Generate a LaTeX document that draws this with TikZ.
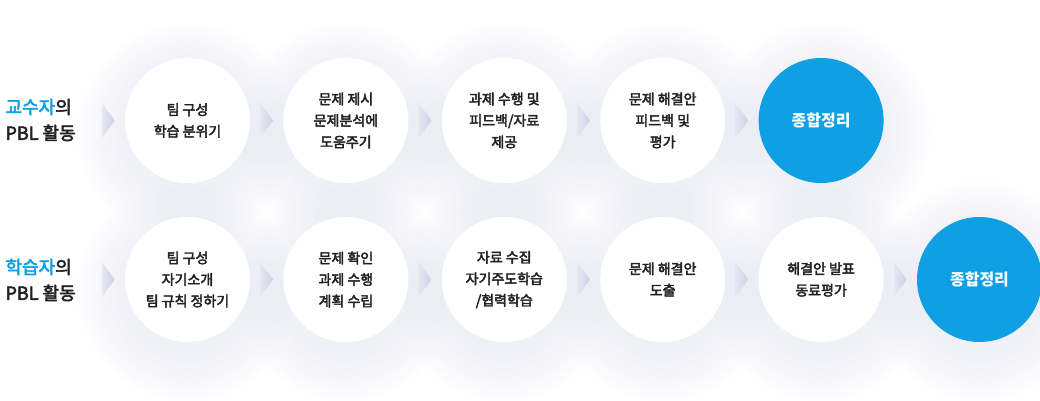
\documentclass[tikz,border=0pt]{standalone}
\usepackage{fontspec}
\setmainfont{Noto Sans CJK KR}
\newfontfamily\medfont{Noto Sans CJK KR}[FakeBold=3]
\usetikzlibrary{positioning, calc, backgrounds}
\definecolor{pblblue}{HTML}{0F9FE3}
\definecolor{txtdark}{HTML}{222222}
\definecolor{haze}{HTML}{D6D6EA}
\definecolor{chev}{HTML}{CFCFE5}
\tikzset{
  stepcirc/.style={circle, fill=white, minimum size=125pt, inner sep=0pt,
    align=center, text=txtdark, font=\medfont\fontsize{14}{21.5}\selectfont},
  endcirc/.style={stepcirc, fill=pblblue, text=white,
    font=\fontsize{16}{20}\selectfont\bfseries},
  rolelabel/.style={align=left, anchor=west, text=txtdark,
    font=\medfont\fontsize{18}{26}\selectfont},
}

\begin{document}
\begin{tikzpicture}[x=1pt, y=-1pt]
    \useasboundingbox (0,0) rectangle (1040,400);
    % row labels
    \node [rolelabel] (role1) at (2,120) {\textcolor{pblblue}{교수자}의\\PBL 활동};
    \node [rolelabel] (role2) at (2,280) {\textcolor{pblblue}{학습자}의\\PBL 활동};
    % professor row
    \node [stepcirc] (t1) at (187.5,120.5) {팀 구성\\학습 분위기};
    \node [stepcirc, right=33pt of t1] (t2) {문제 제시\\문제분석에\\도움주기};
    \node [stepcirc, right=33pt of t2] (t3) {과제 수행 및\\피드백/자료\\제공};
    \node [stepcirc, right=33pt of t3] (t4) {문제 해결안\\피드백 및\\평가};
    \node [endcirc, right=33pt of t4] (t5) {종합정리};
    % learner row
    \node [stepcirc] (b1) at (187.5,279.5) {팀 구성\\자기소개\\팀 규칙 정하기};
    \node [stepcirc, right=33pt of b1] (b2) {문제 확인\\과제 수행\\계획 수립};
    \node [stepcirc, right=33pt of b2] (b3) {자료 수집\\자기주도학습\\/협력학습};
    \node [stepcirc, right=33pt of b3] (b4) {문제 해결안\\도출};
    \node [stepcirc, right=33pt of b4] (b5) {해결안 발표\\동료평가};
    \node [endcirc, right=33pt of b5] (b6) {종합정리};
    \begin{scope}[on background layer]
      % soft shadows
      \foreach \n in {t1,t2,t3,t4,t5,b1,b2,b3,b4,b5,b6}
      \foreach \i in {1,...,20}
      {
        \fill [haze, opacity=0.022] ($(\n.center)+(0,12)$) circle ({60+2.5*\i});
      }
      % chevrons
      \foreach \n in {t1,t2,t3,t4,t5,b1,b2,b3,b4,b5,b6}
      {
        \shade [left color=chev!50, right color=chev]
          ($(\n.west)+(-23,-17.5)$) -- ($(\n.west)+(-10,0)$) -- ($(\n.west)+(-23,17.5)$) -- cycle;
      }
    \end{scope}
\end{tikzpicture}
\end{document}
